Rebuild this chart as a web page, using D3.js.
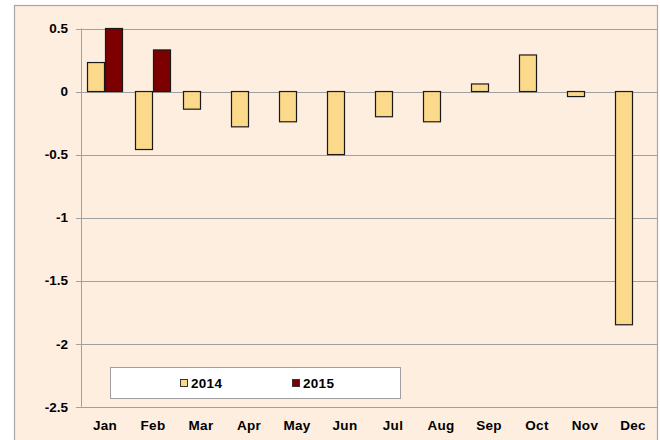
<!DOCTYPE html>
<html>
<head>
<meta charset="utf-8">
<script src="https://cdn.jsdelivr.net/npm/d3@7"></script>
<style>
  body { margin: 0; background: #fff; }
  svg { display: block; font-family: "Liberation Sans", Arial, sans-serif; }
</style>
</head>
<body>
<div id="chart"></div>
<script>
// monthly values
const months = ['Jan', 'Feb', 'Mar', 'Apr', 'May', 'Jun', 'Jul', 'Aug', 'Sep', 'Oct', 'Nov', 'Dec'];
const series = ['2014', '2015'];
const values2014 = [0.23, -0.46, -0.14, -0.28, -0.24, -0.5, -0.2, -0.24, 0.06, 0.29, -0.04, -1.85];
const values2015 = [0.5, 0.33];
const yTicks = [0.5, 0, -0.5, -1, -1.5, -2, -2.5];
const yTickLabels = ['0.5', '0', '-0.5', '-1', '-1.5', '-2', '-2.5'];

const width = 660;
const height = 440;
const colors = { '2014': '#fad98b', '2015': '#7d0000' };

const svg = d3.select('#chart')
  .append('svg')
  .attr('width', width)
  .attr('height', height);

// chart frame
svg.append('rect')
  .attr('x', 14.5)
  .attr('y', 5.5)
  .attr('width', 643)
  .attr('height', 445)
  .attr('fill', '#feeee0')
  .attr('stroke', '#a6a6a6')
  .attr('stroke-width', 1.2);

// scales
const x = d3.scaleBand()
  .domain(months)
  .range([81, 657])
  .paddingInner(0.25)
  .paddingOuter(0.125);

const xSub = d3.scaleBand()
  .domain(series)
  .range([0, x.bandwidth()]);

const y = d3.scaleLinear()
  .domain([-2.5, 0.5])
  .range([406.7, 28.5]);

// gridlines
svg.append('g')
  .selectAll('line')
  .data(yTicks)
  .enter()
  .append('line')
  .attr('x1', 76)
  .attr('x2', 657)
  .attr('y1', d => Math.round(y(d)) + 0.5)
  .attr('y2', d => Math.round(y(d)) + 0.5)
  .attr('stroke', '#a0a0a0')
  .attr('stroke-width', 1);

// y axis line
svg.append('line')
  .attr('x1', 81.5)
  .attr('x2', 81.5)
  .attr('y1', y(0.5))
  .attr('y2', y(-2.5))
  .attr('stroke', '#a0a0a0');

// y labels
svg.append('g')
  .selectAll('text')
  .data(yTicks)
  .enter()
  .append('text')
  .attr('x', 68)
  .attr('y', d => y(d))
  .attr('dy', '0.36em')
  .attr('text-anchor', 'end')
  .attr('font-size', '13.5px')
  .attr('font-weight', 'bold')
  .attr('fill', '#000')
  .text((d, i) => yTickLabels[i]);

// bars
const rows = [];
months.forEach((m, i) => {
  if (values2014[i] !== undefined) rows.push({ month: m, year: '2014', value: values2014[i] });
  if (values2015[i] !== undefined) rows.push({ month: m, year: '2015', value: values2015[i] });
});

svg.append('g')
  .selectAll('rect')
  .data(rows)
  .enter()
  .append('rect')
  .attr('x', d => x(d.month) + xSub(d.year) + 0.5)
  .attr('y', d => y(Math.max(0, d.value)))
  .attr('width', xSub.bandwidth() - 1)
  .attr('height', d => Math.abs(y(d.value) - y(0)))
  .attr('fill', d => colors[d.year])
  .attr('stroke', '#1a1a1a')
  .attr('stroke-width', 1.2);

// x labels
svg.append('g')
  .selectAll('text')
  .data(months)
  .enter()
  .append('text')
  .attr('x', d => x(d) + x.bandwidth() / 2)
  .attr('y', 430)
  .attr('text-anchor', 'middle')
  .attr('font-size', '13.5px')
  .attr('font-weight', 'bold')
  .attr('letter-spacing', '0.3px')
  .attr('fill', '#000')
  .text(d => d);

// legend
const legend = svg.append('g');
legend.append('rect')
  .attr('x', 110.5)
  .attr('y', 367.5)
  .attr('width', 290)
  .attr('height', 31)
  .attr('fill', '#fff')
  .attr('stroke', '#a0a0a0');

const legendX = { '2014': 180, '2015': 292 };
series.forEach(s => {
  legend.append('rect')
    .attr('x', legendX[s] + 0.5)
    .attr('y', 379.5)
    .attr('width', 7)
    .attr('height', 7)
    .attr('fill', colors[s])
    .attr('stroke', '#333');
  legend.append('text')
    .attr('x', legendX[s] + 11)
    .attr('y', 388)
    .attr('font-size', '13.5px')
    .attr('font-weight', 'bold')
    .attr('letter-spacing', '0.3px')
    .attr('fill', '#000')
    .text(s);
});
</script>
</body>
</html>
